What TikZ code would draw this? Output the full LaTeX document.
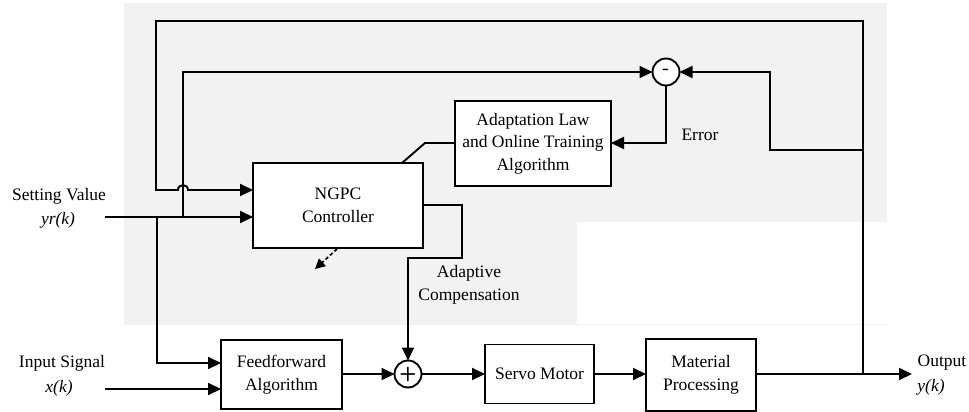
\documentclass[tikz,border=0pt]{standalone}
\usepackage{fontspec}
\setmainfont{Liberation Serif}
\usetikzlibrary{arrows.meta}
\definecolor{bgray}{HTML}{F2F2F2}
\newcommand{\fs}{\fontsize{17.5}{22.5}\selectfont}
\begin{document}
\begin{tikzpicture}[x=1pt,y=-1pt,line width=1.9pt,
  blk/.style={draw,fill=white,inner sep=0pt,outer sep=0pt,align=center,font=\fs},
  sumnode/.style={draw,fill=white,circle,minimum size=27pt,inner sep=0pt,outer sep=0pt,font=\fontsize{20}{20}\selectfont\sffamily\bfseries},
  arr/.style={-{Triangle[length=13pt,width=12pt]}},
  lbl/.style={align=center,font=\fs,inner sep=0pt}]
\useasboundingbox (0,0) rectangle (969,412);
% background
\fill[bgray] (124,3) rectangle (887,325);
\fill[white] (577,222) rectangle (887,324);
% blocks
\node[blk,minimum width=170pt,minimum height=85pt] (ngpc) at (338,205.5) {NGPC\\Controller};
\node[blk,minimum width=156pt,minimum height=85pt] (adapt) at (533,143.5) {Adaptation Law\\and Online Training\\Algorithm};
\node[blk,minimum width=121pt,minimum height=69pt] (ff) at (281.5,374.5) {Feedforward\\Algorithm};
\node[blk,minimum width=109pt,minimum height=59pt] (servo) at (539.5,374) {Servo Motor};
\node[blk,minimum width=110pt,minimum height=72pt] (mat) at (701,375) {Material\\Processing};
\node[sumnode] (minus) at (666,72) {-};
\node[sumnode] (plus) at (408,374) {+};
% coordinates
\coordinate (oj) at (863,374);
\coordinate (out) at (912,374);
\coordinate (sv) at (105,217);
\coordinate (inx) at (105,389);
\coordinate (dsA) at (337,249);
\coordinate (dsB) at (315,269);
% connectors
\draw[arr] (oj) -- (863,21) -- (156,21) -- (156,190) -- (178,190)
  .. controls (178,183.5) and (188,183.5) .. (188,190) -- (ngpc.west |- 0,190);
\draw[arr] (183,217) -- (183,72) -- (minus.west);
\draw[arr] (863,150) -- (770,150) -- (770,72) -- (minus.east);
\draw[arr] (minus.south) -- (666,143) -- (adapt.east |- 0,143);
\draw (402,163) -- (425,143) -- (adapt.west |- 0,143);
\draw[arr] (sv) -- (ngpc.west |- sv);
\draw[arr] (157,217) -- (157,363) -- (ff.west |- 0,363);
\draw[arr] (inx) -- (ff.west |- inx);
\draw[arr] (ff.east |- plus.west) -- (plus.west);
\draw[arr] (ngpc.east |- 0,205) -- (462,205) -- (462,258) -- (408,258) -- (plus.north);
\draw[arr] (plus.east) -- (servo.west);
\draw[arr] (servo.east) -- (mat.west |- servo.east);
\draw[arr] (mat.east |- oj) -- (out);
\draw[-{Triangle[length=10pt,width=10pt]},dash pattern=on 3.5pt off 2.5pt,line width=1.7pt] (dsA) -- (dsB);
% labels
\node[lbl] (sl1) at (59,196) {Setting Value};
\node[lbl] (sl2) at (58,220) {\itshape yr(k)};
\node[lbl] (il1) at (62,363) {Input Signal};
\node[lbl] (il2) at (59,388) {\itshape x(k)};
\node[lbl] (ol1) at (942,363) {Output};
\node[lbl] (ol2) at (931,387) {\itshape y(k)};
\node[lbl] (err) at (700,135) {Error};
\node[lbl] (ac) at (469,285) {Adaptive\\Compensation};
\end{tikzpicture}
\end{document}
